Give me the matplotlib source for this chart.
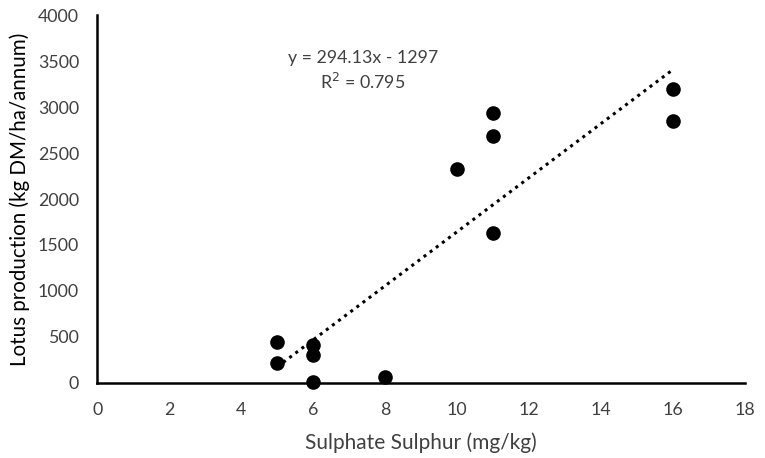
import matplotlib
matplotlib.use("Agg")
import matplotlib.pyplot as plt
import numpy as np

plt.rcParams['font.family'] = ['Lato', 'DejaVu Sans']

sulphate = [5, 5, 6, 6, 6, 8, 10, 11, 11, 11, 16, 16]
lotus = [440, 215, 410, 300, 15, 60, 2330, 2940, 2680, 1630, 3200, 2850]
slope = 294.13
intercept = -1297
r2 = 0.795
xticks = [0, 2, 4, 6, 8, 10, 12, 14, 16, 18]
yticks = [0, 500, 1000, 1500, 2000, 2500, 3000, 3500, 4000]

fig = plt.figure(figsize=(7.65, 4.58), dpi=100)
ax = fig.add_axes([0.127, 0.164, 0.847, 0.803])

ax.scatter(sulphate, lotus, s=90, color='black', zorder=3, clip_on=False)
xt = np.array([min(sulphate), max(sulphate)])
ax.plot(xt, slope * xt + intercept, linestyle=(0, (1, 1.5)), color='black', lw=2.2)

ax.set_xlim(0, 18)
ax.set_ylim(0, 4000)
ax.set_xticks(xticks)
ax.set_yticks(yticks)
ax.tick_params(length=0, labelsize=12.8, colors='#404040')
ax.tick_params(axis='x', pad=14)
ax.tick_params(axis='y', pad=13)
for s in ['top', 'right']:
    ax.spines[s].set_visible(False)
for s in ['left', 'bottom']:
    ax.spines[s].set_linewidth(1.8)
    ax.spines[s].set_color('black')

ax.set_xlabel('Sulphate Sulphur (mg/kg)', fontsize=15, color='#404040', labelpad=10)
ax.set_ylabel('Lotus production (kg DM/ha/annum)', fontsize=14.8, color='black', labelpad=6)

fig.text(363/765, 1 - 58/458, f'y = {slope}x - {abs(intercept)}', ha='center', va='center', fontsize=12.8, color='#404040')
fig.text(363/765, 1 - 82/458, f'R$^2$ = {r2}', ha='center', va='center', fontsize=12.8, color='#404040')

fig.savefig('out.png', dpi=100)
